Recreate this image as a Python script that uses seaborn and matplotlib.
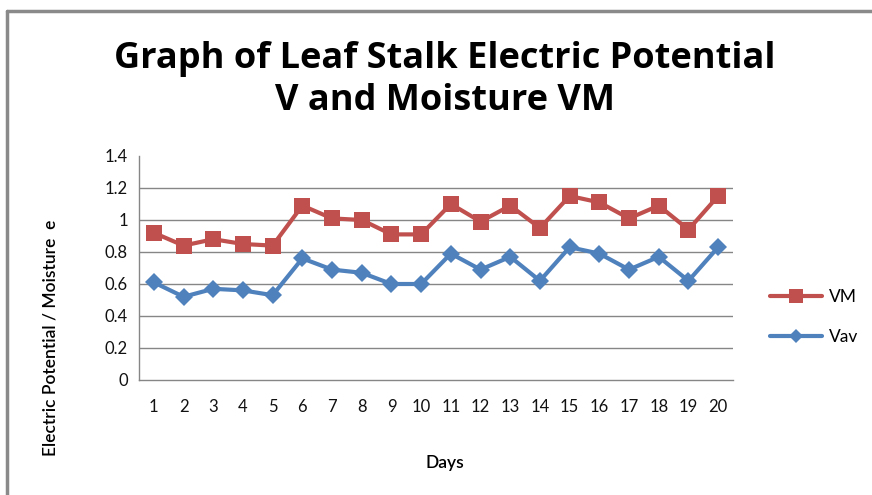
import numpy as np
import pandas as pd
import matplotlib
matplotlib.use("Agg")
import matplotlib.pyplot as plt
from matplotlib.lines import Line2D
import seaborn as sns

# 데이터
days = list(range(1, 21))
vm = [0.92, 0.84, 0.88, 0.85, 0.84, 1.09, 1.01, 1.00, 0.91, 0.91,
      1.10, 0.99, 1.09, 0.95, 1.15, 1.11, 1.01, 1.09, 0.94, 1.15]
vav = [0.61, 0.52, 0.57, 0.56, 0.53, 0.76, 0.69, 0.67, 0.60, 0.60,
       0.79, 0.69, 0.77, 0.62, 0.83, 0.79, 0.69, 0.77, 0.62, 0.83]
y_ticks = [0, 0.2, 0.4, 0.6, 0.8, 1.0, 1.2, 1.4]
y_tick_labels = ["0", "0.2", "0.4", "0.6", "0.8", "1", "1.2", "1.4"]

df = pd.DataFrame({"Days": days, "VM": vm, "Vav": vav})
df_long = df.melt(id_vars="Days", var_name="series", value_name="value")

sns.set_style("white")
plt.rcParams["font.family"] = ["Lato", "DejaVu Sans"]

red = "#C0504D"
blue = "#4F81BD"
grid_c = "#868686"

fig = plt.figure(figsize=(8.72, 4.95), dpi=100)
ax = fig.add_axes([139 / 872, 1 - 380 / 495, (733 - 139) / 872, (380 - 156) / 495])

sns.lineplot(data=df_long, x="Days", y="value", hue="series",
             style="series", markers={"VM": "s", "Vav": "D"}, dashes=False,
             palette={"VM": red, "Vav": blue}, linewidth=3,
             markersize=11, markeredgewidth=0, ax=ax, legend=False)
# 다이아몬드 마커 크기 조정
for line in ax.get_lines():
    if line.get_marker() == "D":
        line.set_markersize(9.5)

ax.set_xlim(0.5, 20.5)
ax.set_ylim(0, 1.4)
ax.set_yticks(y_ticks)
ax.set_yticklabels(y_tick_labels)
ax.set_xticks(days)
ax.set_xticklabels([str(d) for d in days])
ax.set_xticks(np.arange(0.5, 21, 1), minor=True)
ax.tick_params(axis="x", which="major", length=0, pad=14, labelsize=12)
ax.tick_params(axis="x", which="minor", length=5, width=1, color=grid_c,
               direction="out")
ax.tick_params(axis="y", length=0, pad=8, labelsize=12)
for lbl in ax.get_yticklabels() + ax.get_xticklabels():
    lbl.set_color("#111111")

for yv in y_ticks[1:-1]:
    ax.axhline(yv, color=grid_c, linewidth=1, zorder=0)
for s in ["top", "right"]:
    ax.spines[s].set_visible(False)
for s in ["left", "bottom"]:
    ax.spines[s].set_color(grid_c)
    ax.spines[s].set_linewidth(1)

ax.set_xlabel("")
ax.set_ylabel("")
fig.text(445 / 872, 1 - 463 / 495, "Days", ha="center", va="center",
         fontsize=12.5, fontweight="semibold", color="black")
fig.text(50 / 872, 1 - 338 / 495, "Electric Potential / Moisture  e",
         ha="center", va="center", rotation=90, fontsize=12.5,
         fontweight="semibold", color="black")

fig.text(445 / 872, 1 - 80 / 495,
         "Graph of Leaf Stalk Electric Potential\nV and Moisture VM",
         ha="center", va="center", fontsize=26, fontweight="bold",
         family=["Open Sans", "DejaVu Sans"], linespacing=1.2, color="black")

handles = [Line2D([], [], color=red, marker="s", linewidth=3, markersize=10,
                  markeredgewidth=0),
           Line2D([], [], color=blue, marker="D", linewidth=3, markersize=7,
                  markeredgewidth=0)]
leg = fig.legend(handles, ["VM", "Vav"], loc="center left",
                 bbox_to_anchor=(754 / 872, 1 - 317 / 495), frameon=False,
                 fontsize=12.5, handlelength=3, labelspacing=1.4,
                 handletextpad=0.4)
for t in leg.get_texts():
    t.set_color("black")

# 차트 테두리
fig.add_artist(Line2D([7 / 872, 7 / 872], [0, 1 - 11 / 495],
                      transform=fig.transFigure, color="#8a8a8a", linewidth=2.5))
fig.add_artist(Line2D([7 / 872, 1], [1 - 11 / 495, 1 - 11 / 495],
                      transform=fig.transFigure, color="#8a8a8a", linewidth=2.5))

fig.savefig("out.png", dpi=100)
